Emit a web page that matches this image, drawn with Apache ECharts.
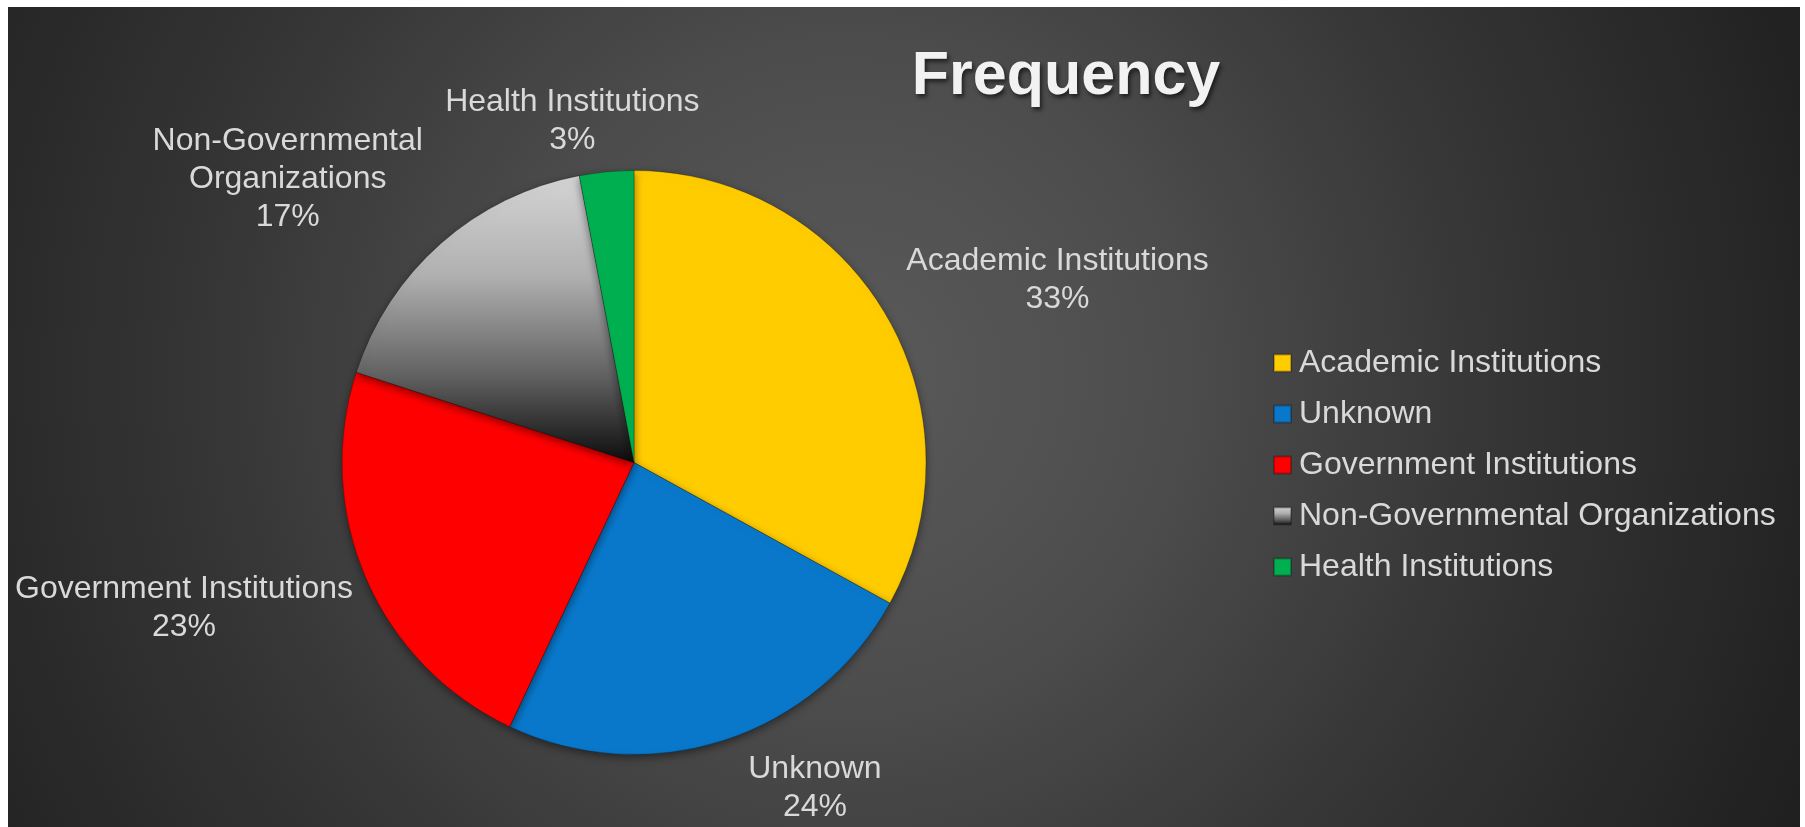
<!DOCTYPE html>
<html><head><meta charset="utf-8">
<script src="https://cdn.jsdelivr.net/npm/echarts@6/dist/echarts.min.js"></script>
<style>
html,body{margin:0;padding:0;background:#fff;}
#chart{position:absolute;left:8px;top:7px;width:1792px;height:820px;
background:radial-gradient(circle farthest-corner at 47% 45%, #5a5a5a 0%, #4d4d4d 30%, #353535 62%, #1f1f1f 100%);}
</style></head><body><div id="chart"></div>
<script>
const titleText = 'Frequency';
const categories = ['Academic Institutions','Unknown','Government Institutions','Non-Governmental Organizations','Health Institutions'];
const labelNames = ['Academic Institutions','Unknown','Government Institutions','Non-Governmental\nOrganizations','Health Institutions'];
const percents = [33,24,23,17,3];

const FONT = '"Liberation Sans", Arial, sans-serif';
const ngoGrad = new echarts.graphic.LinearGradient(0,0,0,1,[
  {offset:0,color:'#d4d4d4'},{offset:0.35,color:'#b0b0b0'},{offset:0.7,color:'#606060'},{offset:1,color:'#0c0c0c'}]);
const sliceColors = ['#FFCC00','#0A78CA','#FF0000',ngoGrad,'#00B050'];
const labelShift = [[16,-34],[19,48],[-8,30],[-13,-64],[98,-51]];

const chart = echarts.init(document.getElementById('chart'), null, {renderer:'canvas'});
chart.setOption({
  backgroundColor:'transparent',
  animation:false,
  title:{
    text:titleText, left:1053, top:35, textAlign:'center',
    textStyle:{fontFamily:FONT, fontWeight:'bold', fontSize:61, color:'#f2f2f2',
      textShadowColor:'rgba(0,0,0,0.6)', textShadowBlur:4, textShadowOffsetX:2, textShadowOffsetY:3}
  },
  legend:{
    orient:'vertical', left:1265, top:339, padding:0, itemGap:17,
    itemWidth:17, itemHeight:17, icon:'rect',
    textStyle:{fontFamily:FONT, fontSize:32, lineHeight:34, color:'#d9d9d9', padding:[0,0,0,3]},
    data:categories
  },
  series:[{
    type:'pie',
    center:[626,455.5], radius:292,
    startAngle:90, clockwise:true,
    avoidLabelOverlap:false,
    emphasis:{disabled:true},
    itemStyle:{borderColor:'rgba(0,0,0,0.25)', borderWidth:1,
      shadowBlur:8, shadowColor:'rgba(0,0,0,0.45)', shadowOffsetY:3},
    label:{
      show:true, position:'outside',
      formatter:function(p){
        const lines = labelNames[p.dataIndex].split('\n');
        lines.push(p.value + '%');
        return lines.map(l => '{c|' + l + '}').join('\n');
      },
      rich:{c:{align:'center', fontFamily:FONT, fontSize:32, lineHeight:38, color:'#d9d9d9'}}
    },
    labelLine:{show:false, length:0, length2:0},
    labelLayout:function(p){
      const s = labelShift[p.dataIndex];
      return {dx:s[0], dy:s[1]};
    },
    data:categories.map((c,i)=>({name:c, value:percents[i], itemStyle:{color:sliceColors[i]}}))
  }]
});
</script></body></html>
